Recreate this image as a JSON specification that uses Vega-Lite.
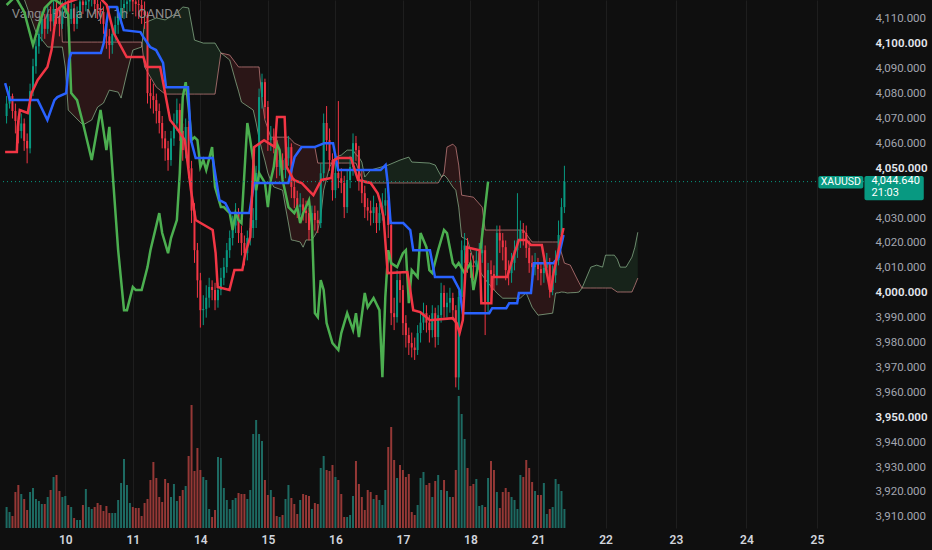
{
    "$schema": "https://vega.github.io/schema/vega-lite/v6.json",
    "width": 868,
    "height": 528,
    "autosize": {"type": "none"},
    "padding": {"left": 0, "top": 0, "right": 64, "bottom": 22},
    "background": "#0f0f0f",
    "config": {
        "view": {"stroke": null},
        "font": "Roboto",
        "axis": {"domain": false, "ticks": false, "gridColor": "#1e1e1e", "gridWidth": 1, "labelOverlap": false, "labelFlush": false, "labelFont": "Roboto"}
    },
    "datasets": {
        "bars": [
            {"i":3,"o":4071,"h":4079,"l":4068,"c":4076,"v":21},
            {"i":4,"o":4076,"h":4083,"l":4074,"c":4079,"v":16},
            {"i":5,"o":4079,"h":4080,"l":4070,"c":4073,"v":12},
            {"i":6,"o":4073,"h":4076,"l":4064,"c":4069,"v":36},
            {"i":7,"o":4069,"h":4071,"l":4060,"c":4065,"v":43},
            {"i":8,"o":4065,"h":4072,"l":4062,"c":4068,"v":34},
            {"i":9,"o":4068,"h":4070,"l":4057,"c":4061,"v":29},
            {"i":10,"o":4061,"h":4064,"l":4052,"c":4058,"v":18},
            {"i":11,"o":4058,"h":4084,"l":4056,"c":4081,"v":36},
            {"i":12,"o":4081,"h":4094,"l":4079,"c":4091,"v":40},
            {"i":13,"o":4091,"h":4102,"l":4088,"c":4099,"v":29},
            {"i":14,"o":4099,"h":4107,"l":4096,"c":4104,"v":27},
            {"i":15,"o":4104,"h":4113,"l":4101,"c":4110,"v":24},
            {"i":16,"o":4110,"h":4112,"l":4102,"c":4106,"v":24},
            {"i":17,"o":4106,"h":4116,"l":4104,"c":4112,"v":31},
            {"i":18,"o":4112,"h":4115,"l":4105,"c":4109,"v":38},
            {"i":19,"o":4109,"h":4119,"l":4107,"c":4114,"v":51},
            {"i":20,"o":4114,"h":4118,"l":4108,"c":4111,"v":53},
            {"i":21,"o":4111,"h":4114,"l":4103,"c":4108,"v":37},
            {"i":22,"o":4108,"h":4117,"l":4106,"c":4113,"v":31},
            {"i":23,"o":4113,"h":4121,"l":4111,"c":4116,"v":32},
            {"i":24,"o":4116,"h":4118,"l":4107,"c":4110,"v":23},
            {"i":25,"o":4110,"h":4117,"l":4108,"c":4114,"v":21},
            {"i":26,"o":4114,"h":4116,"l":4105,"c":4108,"v":10},
            {"i":27,"o":4108,"h":4115,"l":4106,"c":4112,"v":8},
            {"i":28,"o":4112,"h":4121,"l":4110,"c":4117,"v":8},
            {"i":29,"o":4117,"h":4120,"l":4112,"c":4115.6,"v":23},
            {"i":30,"o":4115.6,"h":4122,"l":4113,"c":4117,"v":39},
            {"i":31,"o":4117,"h":4123,"l":4114,"c":4118,"v":21},
            {"i":32,"o":4118,"h":4124,"l":4115,"c":4119,"v":19},
            {"i":33,"o":4119,"h":4121,"l":4112,"c":4116,"v":21},
            {"i":34,"o":4116,"h":4119,"l":4110,"c":4114,"v":25},
            {"i":35,"o":4114,"h":4117,"l":4108,"c":4112.8,"v":23},
            {"i":36,"o":4112.8,"h":4115,"l":4104,"c":4108,"v":17},
            {"i":37,"o":4108,"h":4110,"l":4098,"c":4103,"v":22},
            {"i":38,"o":4103,"h":4106,"l":4094,"c":4099.5,"v":15},
            {"i":39,"o":4099.5,"h":4107,"l":4096,"c":4104,"v":15},
            {"i":40,"o":4104,"h":4111,"l":4101,"c":4107.6,"v":15},
            {"i":41,"o":4107.6,"h":4115,"l":4104,"c":4111,"v":28},
            {"i":42,"o":4111,"h":4119,"l":4108,"c":4114.4,"v":45},
            {"i":43,"o":4114.4,"h":4122,"l":4110,"c":4116,"v":69},
            {"i":44,"o":4116,"h":4123,"l":4112,"c":4117,"v":43},
            {"i":45,"o":4117,"h":4124,"l":4113,"c":4118,"v":25},
            {"i":46,"o":4118,"h":4122,"l":4113,"c":4117,"v":21},
            {"i":47,"o":4117,"h":4121,"l":4111,"c":4116,"v":20},
            {"i":48,"o":4116,"h":4120,"l":4110,"c":4115.6,"v":20},
            {"i":49,"o":4115.6,"h":4118,"l":4108,"c":4113,"v":12},
            {"i":50,"o":4113,"h":4117,"l":4106,"c":4111.6,"v":25},
            {"i":51,"o":4111.6,"h":4113,"l":4076,"c":4080.2,"v":29},
            {"i":52,"o":4080.2,"h":4086,"l":4074,"c":4079,"v":48},
            {"i":53,"o":4079,"h":4084,"l":4072,"c":4077.4,"v":66},
            {"i":54,"o":4077.4,"h":4080,"l":4068,"c":4073,"v":50},
            {"i":55,"o":4073,"h":4076,"l":4064,"c":4068.2,"v":31},
            {"i":56,"o":4068.2,"h":4071,"l":4058,"c":4062,"v":26},
            {"i":57,"o":4062,"h":4065,"l":4053,"c":4058,"v":49},
            {"i":58,"o":4058,"h":4061,"l":4049,"c":4053.3,"v":45},
            {"i":59,"o":4053.3,"h":4065,"l":4051,"c":4062,"v":31},
            {"i":60,"o":4062,"h":4072,"l":4059,"c":4068,"v":44},
            {"i":61,"o":4068,"h":4078,"l":4065,"c":4073.4,"v":27},
            {"i":62,"o":4073.4,"h":4076,"l":4061,"c":4065,"v":32},
            {"i":63,"o":4065,"h":4068,"l":4053,"c":4057.3,"v":38},
            {"i":64,"o":4057.3,"h":4070,"l":4054,"c":4066.6,"v":42},
            {"i":65,"o":4066.6,"h":4069,"l":4046,"c":4050,"v":72},
            {"i":66,"o":4050,"h":4053,"l":4028,"c":4033,"v":123},
            {"i":67,"o":4033,"h":4036,"l":4012,"c":4017.1,"v":57},
            {"i":68,"o":4017.1,"h":4020,"l":3998,"c":4005,"v":80},
            {"i":69,"o":4005,"h":4008,"l":3986,"c":3993,"v":58},
            {"i":70,"o":3993,"h":3999,"l":3987,"c":3993.5,"v":51},
            {"i":71,"o":3993.5,"h":4003,"l":3990,"c":3998,"v":48},
            {"i":72,"o":3998,"h":4006,"l":3994,"c":4002.3,"v":19},
            {"i":73,"o":4002.3,"h":4005,"l":3997,"c":4001.1,"v":11},
            {"i":74,"o":4001.1,"h":4004,"l":3993,"c":3997,"v":18},
            {"i":75,"o":3997,"h":4004,"l":3994,"c":4001.1,"v":71},
            {"i":76,"o":4001.1,"h":4010,"l":3999,"c":4006,"v":70},
            {"i":77,"o":4006,"h":4014,"l":4003,"c":4010.3,"v":40},
            {"i":78,"o":4010.3,"h":4020,"l":4008,"c":4017.1,"v":28},
            {"i":79,"o":4017.1,"h":4025,"l":4014,"c":4022,"v":19},
            {"i":80,"o":4022,"h":4031,"l":4019,"c":4027,"v":28},
            {"i":81,"o":4027,"h":4036,"l":4024,"c":4032,"v":30},
            {"i":82,"o":4032,"h":4034,"l":4020,"c":4024,"v":35},
            {"i":83,"o":4024,"h":4027,"l":4015,"c":4020,"v":34},
            {"i":84,"o":4020,"h":4023,"l":4011,"c":4015.9,"v":34},
            {"i":85,"o":4015.9,"h":4025,"l":4013,"c":4022,"v":29},
            {"i":86,"o":4022,"h":4030,"l":4019,"c":4026,"v":38},
            {"i":87,"o":4026,"h":4034,"l":4022,"c":4029.2,"v":94},
            {"i":88,"o":4029.2,"h":4051,"l":4026,"c":4048.1,"v":108},
            {"i":89,"o":4048.1,"h":4082,"l":4045,"c":4078.6,"v":94},
            {"i":90,"o":4078.6,"h":4088,"l":4074,"c":4084.6,"v":87},
            {"i":91,"o":4084.6,"h":4086,"l":4070,"c":4074.6,"v":48},
            {"i":92,"o":4074.6,"h":4077,"l":4057,"c":4061.3,"v":33},
            {"i":93,"o":4061.3,"h":4067,"l":4057,"c":4062.5,"v":38},
            {"i":94,"o":4062.5,"h":4066,"l":4056,"c":4061.3,"v":31},
            {"i":95,"o":4061.3,"h":4063,"l":4046,"c":4050.5,"v":12},
            {"i":96,"o":4050.5,"h":4057,"l":4047,"c":4053.3,"v":11},
            {"i":97,"o":4053.3,"h":4056,"l":4045,"c":4049.3,"v":13},
            {"i":98,"o":4049.3,"h":4058,"l":4046,"c":4054,"v":29},
            {"i":99,"o":4054,"h":4063,"l":4051,"c":4058.5,"v":43},
            {"i":100,"o":4058.5,"h":4060,"l":4038,"c":4042.5,"v":30},
            {"i":101,"o":4042.5,"h":4046,"l":4034,"c":4038,"v":24},
            {"i":102,"o":4038,"h":4041,"l":4030,"c":4034.4,"v":14},
            {"i":103,"o":4034.4,"h":4040,"l":4031,"c":4035.5,"v":28},
            {"i":104,"o":4035.5,"h":4038,"l":4029,"c":4033,"v":34},
            {"i":105,"o":4033,"h":4037,"l":4028,"c":4032,"v":33},
            {"i":106,"o":4032,"h":4034,"l":4021,"c":4025.2,"v":32},
            {"i":107,"o":4025.2,"h":4035,"l":4022,"c":4032,"v":19},
            {"i":108,"o":4032,"h":4035,"l":4025,"c":4029.2,"v":25},
            {"i":109,"o":4029.2,"h":4033,"l":4024,"c":4028,"v":24},
            {"i":110,"o":4028,"h":4052,"l":4026,"c":4048,"v":60},
            {"i":111,"o":4048,"h":4072,"l":4045,"c":4068.2,"v":72},
            {"i":112,"o":4068.2,"h":4075,"l":4057,"c":4061.3,"v":58},
            {"i":113,"o":4061.3,"h":4066,"l":4049,"c":4053.3,"v":57},
            {"i":114,"o":4053.3,"h":4056,"l":4037,"c":4041.2,"v":63},
            {"i":115,"o":4041.2,"h":4052,"l":4038,"c":4048.1,"v":51},
            {"i":116,"o":4048.1,"h":4077,"l":4042,"c":4046,"v":48},
            {"i":117,"o":4046,"h":4050,"l":4040,"c":4044.1,"v":34},
            {"i":118,"o":4044.1,"h":4047,"l":4030,"c":4034.4,"v":11},
            {"i":119,"o":4034.4,"h":4049,"l":4032,"c":4045.3,"v":11},
            {"i":120,"o":4045.3,"h":4055,"l":4042,"c":4050.5,"v":13},
            {"i":121,"o":4050.5,"h":4064,"l":4047,"c":4060.1,"v":32},
            {"i":122,"o":4060.1,"h":4063,"l":4053,"c":4057.3,"v":67},
            {"i":123,"o":4057.3,"h":4059,"l":4041,"c":4045.3,"v":44},
            {"i":124,"o":4045.3,"h":4049,"l":4036,"c":4040,"v":31},
            {"i":125,"o":4040,"h":4043,"l":4030,"c":4034.4,"v":18},
            {"i":126,"o":4034.4,"h":4038,"l":4029,"c":4033,"v":38},
            {"i":127,"o":4033,"h":4037,"l":4027,"c":4032,"v":36},
            {"i":128,"o":4032,"h":4039,"l":4028,"c":4034.4,"v":29},
            {"i":129,"o":4034.4,"h":4036,"l":4024,"c":4028,"v":33},
            {"i":130,"o":4028,"h":4036,"l":4025,"c":4032,"v":28},
            {"i":131,"o":4032,"h":4040,"l":4029,"c":4035,"v":23},
            {"i":132,"o":4035,"h":4042,"l":4031,"c":4037.2,"v":38},
            {"i":133,"o":4037.2,"h":4039,"l":4022,"c":4027.2,"v":81},
            {"i":134,"o":4027.2,"h":4029,"l":3987,"c":3991.8,"v":101},
            {"i":135,"o":3991.8,"h":3998,"l":3985,"c":3990.2,"v":68},
            {"i":136,"o":3990.2,"h":4009,"l":3988,"c":4005.1,"v":50},
            {"i":137,"o":4005.1,"h":4008,"l":3996,"c":4001.1,"v":63},
            {"i":138,"o":4001.1,"h":4003,"l":3983,"c":3987.8,"v":58},
            {"i":139,"o":3987.8,"h":3991,"l":3978,"c":3983,"v":51},
            {"i":140,"o":3983,"h":3986,"l":3975,"c":3979.8,"v":54},
            {"i":141,"o":3979.8,"h":3984,"l":3974,"c":3978,"v":16},
            {"i":142,"o":3978,"h":3982,"l":3973,"c":3977,"v":13},
            {"i":143,"o":3977,"h":3987,"l":3975,"c":3983.8,"v":23},
            {"i":144,"o":3983.8,"h":3992,"l":3980,"c":3988,"v":50},
            {"i":145,"o":3988,"h":3996,"l":3985,"c":3991.8,"v":56},
            {"i":146,"o":3991.8,"h":3995,"l":3984,"c":3988,"v":43},
            {"i":147,"o":3988,"h":3991,"l":3980,"c":3985,"v":45},
            {"i":148,"o":3985,"h":3995,"l":3982,"c":3991.8,"v":31},
            {"i":149,"o":3991.8,"h":3994,"l":3978,"c":3982.2,"v":47},
            {"i":150,"o":3982.2,"h":3995,"l":3979,"c":3991,"v":53},
            {"i":151,"o":3991,"h":4004,"l":3988,"c":3999.9,"v":38},
            {"i":152,"o":3999.9,"h":4003,"l":3990,"c":3994.2,"v":48},
            {"i":153,"o":3994.2,"h":4000,"l":3990,"c":3996,"v":37},
            {"i":154,"o":3996,"h":4002,"l":3992,"c":3997.9,"v":31},
            {"i":155,"o":3997.9,"h":4000,"l":3989,"c":3993,"v":31},
            {"i":156,"o":3993,"h":3995,"l":3962,"c":3966,"v":58},
            {"i":157,"o":3966,"h":4001,"l":3961,"c":3998.3,"v":132},
            {"i":158,"o":3998.3,"h":4021,"l":3995,"c":4017.1,"v":114},
            {"i":159,"o":4017.1,"h":4024,"l":4012,"c":4019,"v":89},
            {"i":160,"o":4019,"h":4022,"l":4008,"c":4011.9,"v":60},
            {"i":161,"o":4011.9,"h":4016,"l":4006,"c":4011,"v":42},
            {"i":162,"o":4011,"h":4015,"l":4005,"c":4010.3,"v":44},
            {"i":163,"o":4010.3,"h":4017,"l":4007,"c":4013,"v":49},
            {"i":164,"o":4013,"h":4020,"l":4010,"c":4015.9,"v":22},
            {"i":165,"o":4015.9,"h":4026,"l":4012,"c":4017.1,"v":23},
            {"i":166,"o":4017.1,"h":4019,"l":3983,"c":3995.8,"v":21},
            {"i":167,"o":3995.8,"h":4012,"l":3992,"c":4009.1,"v":50},
            {"i":168,"o":4009.1,"h":4013,"l":4002,"c":4007.5,"v":67},
            {"i":169,"o":4007.5,"h":4011,"l":4001,"c":4006.3,"v":58},
            {"i":170,"o":4006.3,"h":4027,"l":4003,"c":4024,"v":36},
            {"i":171,"o":4024,"h":4027,"l":4016,"c":4021,"v":20},
            {"i":172,"o":4021,"h":4024,"l":4013,"c":4018.3,"v":36},
            {"i":173,"o":4018.3,"h":4021,"l":4005,"c":4009.1,"v":40},
            {"i":174,"o":4009.1,"h":4013,"l":4003,"c":4007.9,"v":36},
            {"i":175,"o":4007.9,"h":4016,"l":4004,"c":4012,"v":31},
            {"i":176,"o":4012,"h":4021,"l":4009,"c":4017.1,"v":28},
            {"i":177,"o":4017.1,"h":4040,"l":4014,"c":4021,"v":19},
            {"i":178,"o":4021,"h":4029,"l":4018,"c":4025.2,"v":53},
            {"i":179,"o":4025.2,"h":4028,"l":4019,"c":4024,"v":51},
            {"i":180,"o":4024,"h":4027,"l":4014,"c":4018,"v":68},
            {"i":181,"o":4018,"h":4021,"l":4008,"c":4011.9,"v":60},
            {"i":182,"o":4011.9,"h":4015,"l":4006,"c":4010.3,"v":46},
            {"i":183,"o":4010.3,"h":4016,"l":4007,"c":4011.9,"v":37},
            {"i":184,"o":4011.9,"h":4014,"l":4005,"c":4009.5,"v":33},
            {"i":185,"o":4009.5,"h":4012,"l":4003,"c":4007.9,"v":33},
            {"i":186,"o":4007.9,"h":4014,"l":4004,"c":4010,"v":45},
            {"i":187,"o":4010,"h":4016,"l":4007,"c":4011.9,"v":14},
            {"i":188,"o":4011.9,"h":4014,"l":3998,"c":4001.1,"v":19},
            {"i":189,"o":4001.1,"h":4011,"l":3999,"c":4007,"v":21},
            {"i":190,"o":4007,"h":4017,"l":4004,"c":4013.1,"v":49},
            {"i":191,"o":4013.1,"h":4029,"l":4011,"c":4023.2,"v":44},
            {"i":192,"o":4023.2,"h":4038,"l":4021,"c":4034.4,"v":37},
            {"i":193,"o":4034.4,"h":4051,"l":4032,"c":4044.6,"v":19}
        ],
        "cloud": [
            {"i":3,"a":4121,"b":4126,"s":1,"t":"dn"},
            {"i":9,"a":4118,"b":4126,"s":1,"t":"dn"},
            {"i":13,"a":4104.7,"b":4126,"s":1,"t":"dn"},
            {"i":17,"a":4098.7,"b":4126,"s":1,"t":"dn"},
            {"i":21,"a":4098.7,"b":4126,"s":1,"t":"dn"},
            {"i":22,"a":4098.7,"b":4100.7,"s":1,"t":"dn"},
            {"i":23,"a":4090.7,"b":4100.7,"s":1,"t":"dn"},
            {"i":24,"a":4073.4,"b":4100.7,"s":1,"t":"dn"},
            {"i":29,"a":4067.4,"b":4100.7,"s":1,"t":"dn"},
            {"i":32,"a":4069.4,"b":4100.7,"s":1,"t":"dn"},
            {"i":34,"a":4074.6,"b":4100.7,"s":1,"t":"dn"},
            {"i":36,"a":4076.2,"b":4100.7,"s":1,"t":"dn"},
            {"i":38,"a":4081.4,"b":4100.7,"s":1,"t":"dn"},
            {"i":41,"a":4080.6,"b":4100.7,"s":1,"t":"dn"},
            {"i":42,"a":4078.2,"b":4100.7,"s":1,"t":"dn"},
            {"i":44,"a":4088.3,"b":4100.7,"s":1,"t":"dn"},
            {"i":46,"a":4097.5,"b":4100.7,"s":1,"t":"dn"},
            {"i":49,"a":4098.7,"b":4100.7,"s":1,"t":"dn"},
            {"i":49.1,"a":4099.7,"b":4099.7,"s":1,"t":"dn"},
            {"i":49.1,"a":4099.7,"b":4099.7,"s":2,"t":"up"},
            {"i":50,"a":4108.4,"b":4090.7,"s":2,"t":"up"},
            {"i":54,"a":4110.4,"b":4082.6,"s":2,"t":"up"},
            {"i":57,"a":4109.6,"b":4079.8,"s":2,"t":"up"},
            {"i":61,"a":4112.4,"b":4079.8,"s":2,"t":"up"},
            {"i":63,"a":4114.8,"b":4079.8,"s":2,"t":"up"},
            {"i":65,"a":4114.4,"b":4079.8,"s":2,"t":"up"},
            {"i":67,"a":4101.5,"b":4079.8,"s":2,"t":"up"},
            {"i":70,"a":4100.3,"b":4079.8,"s":2,"t":"up"},
            {"i":74,"a":4100.3,"b":4079.8,"s":2,"t":"up"},
            {"i":76,"a":4096.3,"b":4096.3,"s":2,"t":"up"},
            {"i":76,"a":4096.3,"b":4096.3,"s":3,"t":"dn"},
            {"i":79,"a":4093.5,"b":4095.5,"s":3,"t":"dn"},
            {"i":81,"a":4085,"b":4092.3,"s":3,"t":"dn"},
            {"i":82,"a":4081,"b":4090.7,"s":3,"t":"dn"},
            {"i":83,"a":4076.6,"b":4090.7,"s":3,"t":"dn"},
            {"i":87,"a":4073.4,"b":4090.7,"s":3,"t":"dn"},
            {"i":88,"a":4068.2,"b":4090.7,"s":3,"t":"dn"},
            {"i":89,"a":4062,"b":4090.7,"s":3,"t":"dn"},
            {"i":90,"a":4057.3,"b":4077.4,"s":3,"t":"dn"},
            {"i":91,"a":4053,"b":4069.4,"s":3,"t":"dn"},
            {"i":92,"a":4048.1,"b":4066,"s":3,"t":"dn"},
            {"i":93,"a":4045,"b":4062.5,"s":3,"t":"dn"},
            {"i":94,"a":4042.5,"b":4062.5,"s":3,"t":"dn"},
            {"i":97,"a":4041.2,"b":4062.5,"s":3,"t":"dn"},
            {"i":98,"a":4034.4,"b":4062.5,"s":3,"t":"dn"},
            {"i":99,"a":4028,"b":4062.5,"s":3,"t":"dn"},
            {"i":100,"a":4021.2,"b":4061.5,"s":3,"t":"dn"},
            {"i":101,"a":4021,"b":4060.1,"s":3,"t":"dn"},
            {"i":103,"a":4020.4,"b":4059,"s":3,"t":"dn"},
            {"i":104,"a":4018.3,"b":4058.5,"s":3,"t":"dn"},
            {"i":105,"a":4021.2,"b":4058.5,"s":3,"t":"dn"},
            {"i":107,"a":4021.2,"b":4058.5,"s":3,"t":"dn"},
            {"i":108,"a":4023,"b":4058.5,"s":3,"t":"dn"},
            {"i":109,"a":4025.2,"b":4052.1,"s":3,"t":"dn"},
            {"i":110,"a":4030.4,"b":4052.1,"s":3,"t":"dn"},
            {"i":111,"a":4041.2,"b":4052.1,"s":3,"t":"dn"},
            {"i":113,"a":4050.5,"b":4052.1,"s":3,"t":"dn"},
            {"i":113.8,"a":4052.1,"b":4052.1,"s":3,"t":"dn"},
            {"i":113.8,"a":4052.1,"b":4052.1,"s":4,"t":"up"},
            {"i":115,"a":4054.5,"b":4052.1,"s":4,"t":"up"},
            {"i":117,"a":4055.3,"b":4052.1,"s":4,"t":"up"},
            {"i":119,"a":4057.3,"b":4052.1,"s":4,"t":"up"},
            {"i":121,"a":4057.3,"b":4052.1,"s":4,"t":"up"},
            {"i":122,"a":4055.5,"b":4052.1,"s":4,"t":"up"},
            {"i":123,"a":4054.5,"b":4049,"s":4,"t":"up"},
            {"i":124,"a":4052.5,"b":4046,"s":4,"t":"up"},
            {"i":125,"a":4046.5,"b":4044.1,"s":4,"t":"up"},
            {"i":127,"a":4049.3,"b":4044.1,"s":4,"t":"up"},
            {"i":133,"a":4051.3,"b":4044.1,"s":4,"t":"up"},
            {"i":137,"a":4053.3,"b":4044.1,"s":4,"t":"up"},
            {"i":140,"a":4054.5,"b":4044.1,"s":4,"t":"up"},
            {"i":141,"a":4052.5,"b":4044.1,"s":4,"t":"up"},
            {"i":147,"a":4052.1,"b":4044.1,"s":4,"t":"up"},
            {"i":149,"a":4051.3,"b":4044.1,"s":4,"t":"up"},
            {"i":150,"a":4049,"b":4044.1,"s":4,"t":"up"},
            {"i":151.2,"a":4046.5,"b":4046.5,"s":4,"t":"up"},
            {"i":151.2,"a":4046.5,"b":4046.5,"s":5,"t":"dn"},
            {"i":152,"a":4047.3,"b":4048.1,"s":5,"t":"dn"},
            {"i":153,"a":4046.1,"b":4058.5,"s":5,"t":"dn"},
            {"i":155,"a":4042.5,"b":4059.7,"s":5,"t":"dn"},
            {"i":156,"a":4041.2,"b":4058.5,"s":5,"t":"dn"},
            {"i":157,"a":4034.4,"b":4051.3,"s":5,"t":"dn"},
            {"i":158,"a":4022.4,"b":4039.2,"s":5,"t":"dn"},
            {"i":160,"a":4021.2,"b":4038.8,"s":5,"t":"dn"},
            {"i":162,"a":4013.1,"b":4038.4,"s":5,"t":"dn"},
            {"i":165,"a":4007.1,"b":4034.4,"s":5,"t":"dn"},
            {"i":166,"a":4005.5,"b":4025.2,"s":5,"t":"dn"},
            {"i":167,"a":4003.9,"b":4025.2,"s":5,"t":"dn"},
            {"i":170,"a":3999.9,"b":4025.2,"s":5,"t":"dn"},
            {"i":172,"a":3997.8,"b":4025.2,"s":5,"t":"dn"},
            {"i":178,"a":3997.8,"b":4025.2,"s":5,"t":"dn"},
            {"i":179,"a":3999,"b":4025.2,"s":5,"t":"dn"},
            {"i":180,"a":3999.9,"b":4023.6,"s":5,"t":"dn"},
            {"i":182,"a":3994.2,"b":4020.4,"s":5,"t":"dn"},
            {"i":184,"a":3991,"b":4020.4,"s":5,"t":"dn"},
            {"i":189,"a":3991.8,"b":4020.4,"s":5,"t":"dn"},
            {"i":190,"a":3999.9,"b":4020.4,"s":5,"t":"dn"},
            {"i":191,"a":4000,"b":4020.4,"s":5,"t":"dn"},
            {"i":192,"a":4000.3,"b":4016,"s":5,"t":"dn"},
            {"i":193,"a":4000.2,"b":4011.9,"s":5,"t":"dn"},
            {"i":194,"a":3999.9,"b":4011.5,"s":5,"t":"dn"},
            {"i":195,"a":4000,"b":4011.1,"s":5,"t":"dn"},
            {"i":197,"a":4000.1,"b":4006.3,"s":5,"t":"dn"},
            {"i":198,"a":4000.3,"b":4004,"s":5,"t":"dn"},
            {"i":199,"a":4001.9,"b":4001.9,"s":5,"t":"dn"},
            {"i":199,"a":4001.9,"b":4001.9,"s":6,"t":"up"},
            {"i":202,"a":4010.3,"b":4001.9,"s":6,"t":"up"},
            {"i":204,"a":4011.1,"b":4001.9,"s":6,"t":"up"},
            {"i":206,"a":4010.3,"b":4001.9,"s":6,"t":"up"},
            {"i":207,"a":4015.1,"b":4001.9,"s":6,"t":"up"},
            {"i":209,"a":4015.1,"b":4001.9,"s":6,"t":"up"},
            {"i":210,"a":4015.1,"b":4001.1,"s":6,"t":"up"},
            {"i":211,"a":4013.5,"b":4000.3,"s":6,"t":"up"},
            {"i":212,"a":4010.3,"b":4000.3,"s":6,"t":"up"},
            {"i":214,"a":4010.3,"b":4000.3,"s":6,"t":"up"},
            {"i":216,"a":4014.3,"b":4000.3,"s":6,"t":"up"},
            {"i":217,"a":4018.3,"b":4003,"s":6,"t":"up"},
            {"i":218,"a":4024.3,"b":4005.9,"s":6,"t":"up"}
        ],
        "chikou": [
            {"i":3,"p":4115.6},{"i":6,"p":4119},{"i":9,"p":4112.8},{"i":12,"p":4099.5},{"i":14,"p":4107.6},
            {"i":16,"p":4114.4},{"i":19,"p":4118},{"i":22,"p":4115.6},{"i":24,"p":4111.6},{"i":25,"p":4080.2},
            {"i":27,"p":4077.4},{"i":29,"p":4068.2},{"i":32,"p":4053.3},{"i":35,"p":4073.4},{"i":37,"p":4057.3},
            {"i":38,"p":4066.6},{"i":41,"p":4017.1},{"i":43,"p":3993},{"i":44,"p":3993},{"i":46,"p":4002.3},
            {"i":47,"p":4001.1},{"i":49,"p":4001.1},{"i":51,"p":4010.3},{"i":52,"p":4017.1},{"i":55,"p":4032},
            {"i":56,"p":4024},{"i":58,"p":4015.9},{"i":59,"p":4022},{"i":61,"p":4029.2},{"i":62,"p":4048.1},
            {"i":63,"p":4078.6},{"i":64,"p":4084.6},{"i":65,"p":4074.6},{"i":66,"p":4061.3},{"i":67,"p":4062.5},
            {"i":68,"p":4061.3},{"i":69,"p":4050.5},{"i":70,"p":4053.3},{"i":71,"p":4049.3},{"i":73,"p":4058.5},
            {"i":74,"p":4042.5},{"i":76,"p":4034.4},{"i":77,"p":4034.4},{"i":79,"p":4032},{"i":80,"p":4025.2},
            {"i":81,"p":4032},{"i":82,"p":4029.2},{"i":83,"p":4028},{"i":85,"p":4068.2},{"i":86,"p":4061.3},
            {"i":87,"p":4053.3},{"i":88,"p":4041.2},{"i":89,"p":4048.1},{"i":91,"p":4044.1},{"i":92,"p":4034.4},
            {"i":93,"p":4045.3},{"i":94,"p":4050.5},{"i":95,"p":4060.1},{"i":96,"p":4057.3},{"i":97,"p":4045.3},
            {"i":98,"p":4040},{"i":99,"p":4034.4},{"i":101,"p":4032},{"i":102,"p":4034.4},{"i":103,"p":4028},
            {"i":104,"p":4032},{"i":106,"p":4037.2},{"i":107,"p":4027.2},{"i":108,"p":3991.8},{"i":109,"p":3990.2},
            {"i":110,"p":4005.1},{"i":111,"p":4001.1},{"i":112,"p":3987.8},{"i":114,"p":3979.8},{"i":116,"p":3977},
            {"i":117,"p":3983.8},{"i":119,"p":3991.8},{"i":121,"p":3985},{"i":122,"p":3991.8},{"i":123,"p":3982.2},
            {"i":125,"p":3999.9},{"i":126,"p":3994.2},{"i":128,"p":3997.9},{"i":130,"p":3993},{"i":131,"p":3966.1},
            {"i":132,"p":3998.3},{"i":133,"p":4017.1},{"i":134,"p":4011.9},{"i":136,"p":4010.3},{"i":138,"p":4015.9},
            {"i":139,"p":4017.1},{"i":140,"p":3995.8},{"i":141,"p":4009.1},{"i":143,"p":4006.3},{"i":144,"p":4024},
            {"i":146,"p":4018.3},{"i":147,"p":4009.1},{"i":148,"p":4007.9},{"i":150,"p":4017.1},{"i":152,"p":4025.2},
            {"i":153,"p":4024},{"i":155,"p":4011.9},{"i":156,"p":4010.3},{"i":157,"p":4011.9},{"i":159,"p":4007.9},
            {"i":161,"p":4011.9},{"i":162,"p":4001.1},{"i":164,"p":4013.1},{"i":165,"p":4023.2},{"i":166,"p":4034.4},
            {"i":167,"p":4044.6}
        ],
        "kijun": [
            {"i":2.5,"p":4084.2},{"i":3.5,"p":4080.2},{"i":4.1,"p":4077.4},{"i":13.6,"p":4077.4},{"i":16.9,"p":4069.4},
            {"i":19.3,"p":4077.4},{"i":20.3,"p":4078.6},{"i":23.3,"p":4080.2},{"i":24.3,"p":4093.5},{"i":25,"p":4096.3},
            {"i":35.1,"p":4096.3},{"i":36.1,"p":4100.3},{"i":37.8,"p":4114.8},{"i":40.5,"p":4114.8},{"i":42.9,"p":4105.5},
            {"i":48.6,"p":4104.7},{"i":49.6,"p":4102.7},{"i":51.9,"p":4098.7},{"i":53.9,"p":4097.5},{"i":56.3,"p":4092.3},
            {"i":57.3,"p":4082.6},{"i":64.8,"p":4082.6},{"i":65.8,"p":4061.3},{"i":67.4,"p":4054.1},{"i":73.2,"p":4054.1},
            {"i":75.5,"p":4037.2},{"i":77.5,"p":4036},{"i":79.2,"p":4032},{"i":85.7,"p":4032},{"i":87.3,"p":4044.1},
            {"i":99,"p":4044.1},{"i":101.1,"p":4054.5},{"i":103.5,"p":4058.5},{"i":107.9,"p":4058.5},{"i":111.2,"p":4060.1},
            {"i":114.2,"p":4060.1},{"i":115.9,"p":4049.3},{"i":130.4,"p":4049.3},{"i":132.1,"p":4051.3},{"i":132.8,"p":4044.1},
            {"i":133.8,"p":4028},{"i":138.1,"p":4028},{"i":140.5,"p":4025.2},{"i":141.5,"p":4017.1},{"i":147.2,"p":4017.1},
            {"i":148.9,"p":4006.3},{"i":155,"p":4006.3},{"i":157.3,"p":4001.1},{"i":158.4,"p":3991.8},{"i":167.4,"p":3991.8},
            {"i":168.4,"p":3993.8},{"i":173.2,"p":3993.8},{"i":174.2,"p":3995.8},{"i":176.9,"p":3995.8},{"i":177.5,"p":3999.9},
            {"i":181.6,"p":3999.9},{"i":182.6,"p":4011.9},{"i":189.3,"p":4011.9},{"i":191,"p":4014.3},{"i":192.7,"p":4023.2}
        ],
        "tenkan": [
            {"i":2.5,"p":4056.5},{"i":6.5,"p":4056.5},{"i":6.8,"p":4066.6},{"i":7.5,"p":4073.4},{"i":10.2,"p":4072.2},
            {"i":11.5,"p":4080.2},{"i":13.6,"p":4085.5},{"i":16.9,"p":4090.7},{"i":18.3,"p":4097.5},{"i":19.3,"p":4106.7},
            {"i":20.3,"p":4113.6},{"i":22,"p":4115.6},{"i":23.3,"p":4116.4},{"i":29.4,"p":4119},{"i":34.4,"p":4119},
            {"i":37.1,"p":4115.6},{"i":39.5,"p":4104.3},{"i":43.9,"p":4094.7},{"i":49.6,"p":4094.7},{"i":50.6,"p":4090.7},
            {"i":55.3,"p":4090.7},{"i":57,"p":4080.2},{"i":58.7,"p":4069.4},{"i":61.4,"p":4065.4},{"i":63.7,"p":4061.3},
            {"i":65.8,"p":4041.2},{"i":67.4,"p":4029.2},{"i":69.1,"p":4028},{"i":73.2,"p":4025.2},{"i":74.2,"p":4015.9},
            {"i":74.9,"p":4002.3},{"i":78.9,"p":4001.1},{"i":80.6,"p":4009.1},{"i":83.3,"p":4009.1},{"i":84.3,"p":4015.9},
            {"i":86,"p":4022.4},{"i":87.3,"p":4058.5},{"i":90.7,"p":4061.3},{"i":94.4,"p":4058.5},{"i":95.1,"p":4070.6},
            {"i":97.7,"p":4070.6},{"i":98.4,"p":4050.5},{"i":100.8,"p":4045.3},{"i":103.5,"p":4044.1},{"i":105.8,"p":4041.2},
            {"i":107.5,"p":4039.2},{"i":110.2,"p":4045.3},{"i":113.6,"p":4046.1},{"i":114.6,"p":4053.3},{"i":115.9,"p":4054.1},
            {"i":120.3,"p":4054.1},{"i":121.3,"p":4050.5},{"i":122.7,"p":4045.3},{"i":127,"p":4044.1},{"i":129.4,"p":4040},
            {"i":130.4,"p":4036},{"i":131.4,"p":4030.4},{"i":132.8,"p":4007.9},{"i":139.5,"p":4008.3},{"i":140.5,"p":4001.1},
            {"i":141.5,"p":3993},{"i":143.9,"p":3992.2},{"i":147.2,"p":3989},{"i":155,"p":3989.8},{"i":156.3,"p":3987.8},
            {"i":157.3,"p":3983.8},{"i":158.4,"p":3989},{"i":159.7,"p":4018.3},{"i":164.1,"p":4017.1},{"i":164.7,"p":3995.8},
            {"i":168.1,"p":3995.8},{"i":168.4,"p":4006.3},{"i":173.5,"p":4006.3},{"i":175.2,"p":4013.1},{"i":177.5,"p":4021.2},
            {"i":179.9,"p":4021.2},{"i":181.6,"p":4019.2},{"i":185.3,"p":4019.2},{"i":187,"p":4007.9},{"i":188.3,"p":4000.3},
            {"i":189.3,"p":4007.9},{"i":191,"p":4017.1},{"i":192.7,"p":4026}
        ]
    },
    "layer": [
        {
            "data": {"name": "bars"},
            "mark": {"type": "bar", "size": 2},
            "encoding": {
                "x": {
                    "field": "i", "type": "quantitative", "title": null,
                    "scale": {"domain": [2.46, 294.7], "nice": false, "zero": false},
                    "axis": {
                        "values": [23, 46, 69, 92, 115, 138, 161, 184, 207, 231, 255, 279],
                        "tickCount": 40,
                        "labelExpr": "['10','11','14','15','16','17','18','21','22','23','24','25'][indexof([23,46,69,92,115,138,161,184,207,231,255,279], datum.value)]",
                        "labelFontSize": 12, "labelFontWeight": 600, "labelColor": "#d1d4dc", "labelPadding": 6,
                        "labelOverlap": false, "labelFlush": false
                    }
                },
                "y": {"field": "v", "type": "quantitative", "title": null, "scale": {"domain": [0, 528]}, "axis": null},
                "color": {"condition": {"test": "datum.c >= datum.o", "value": "#1d6a62"}, "value": "#953836"}
            }
        },
        {
            "layer": [
                {
                    "data": {"name": "cloud"},
                    "mark": {"type": "area"},
                    "encoding": {
                        "x": {"field": "i", "type": "quantitative", "title": null, "scale": {"domain": [2.46, 294.7], "nice": false, "zero": false}},
                        "y": {
                            "field": "a", "type": "quantitative", "title": null,
                            "scale": {"domain": [3905.5, 4117.6], "nice": false, "zero": false},
                            "axis": {
                                "orient": "right",
                                "values": [3910, 3920, 3930, 3940, 3950, 3960, 3970, 3980, 3990, 4000, 4010, 4020, 4030, 4040, 4050, 4060, 4070, 4080, 4090, 4100, 4110],
                                "tickCount": 40,
                                "labelExpr": "datum.value == 4040 ? '' : format(datum.value, ',.3f')",
                                "labelFontSize": 11.5,
                                "labelPadding": 7,
                                "labelOverlap": false,
                                "labelFlush": false,
                                "labelBound": false,
                                "labelColor": {"condition": {"test": "datum.value % 50 == 0", "value": "#e6e8ee"}, "value": "#a3a6af"},
                                "labelFontWeight": {"condition": {"test": "datum.value % 50 == 0", "value": 600}, "value": 400}
                            }
                        },
                        "y2": {"field": "b"},
                        "color": {"field": "t", "type": "nominal", "scale": {"domain": ["up", "dn"], "range": ["#17231a", "#2b1617"]}, "legend": null},
                        "detail": {"field": "s", "type": "nominal"}
                    }
                },
                {
                    "data": {"name": "cloud"},
                    "mark": {"type": "line", "color": "#a5d6a7", "strokeWidth": 1, "opacity": 0.6},
                    "encoding": {
                        "x": {"field": "i", "type": "quantitative", "title": null, "scale": {"domain": [2.46, 294.7], "nice": false, "zero": false}},
                        "y": {"field": "a", "type": "quantitative", "title": null, "scale": {"domain": [3905.5, 4117.6], "nice": false, "zero": false}}
                    }
                },
                {
                    "data": {"name": "cloud"},
                    "mark": {"type": "line", "color": "#ef9a9a", "strokeWidth": 1, "opacity": 0.6},
                    "encoding": {
                        "x": {"field": "i", "type": "quantitative", "title": null, "scale": {"domain": [2.46, 294.7], "nice": false, "zero": false}},
                        "y": {"field": "b", "type": "quantitative", "title": null, "scale": {"domain": [3905.5, 4117.6], "nice": false, "zero": false}}
                    }
                },
                {
                    "data": {"name": "bars"},
                    "mark": {"type": "rule", "strokeWidth": 1},
                    "encoding": {
                        "x": {"field": "i", "type": "quantitative", "title": null, "scale": {"domain": [2.46, 294.7], "nice": false, "zero": false}},
                        "y": {"field": "l", "type": "quantitative", "title": null, "scale": {"domain": [3905.5, 4117.6], "nice": false, "zero": false}},
                        "y2": {"field": "h"},
                        "color": {"condition": {"test": "datum.c >= datum.o", "value": "#089981"}, "value": "#f23645"}
                    }
                },
                {
                    "data": {"name": "bars"},
                    "mark": {"type": "bar", "size": 2},
                    "encoding": {
                        "x": {"field": "i", "type": "quantitative", "title": null, "scale": {"domain": [2.46, 294.7], "nice": false, "zero": false}},
                        "y": {"field": "o", "type": "quantitative", "title": null, "scale": {"domain": [3905.5, 4117.6], "nice": false, "zero": false}},
                        "y2": {"field": "c"},
                        "color": {"condition": {"test": "datum.c >= datum.o", "value": "#089981"}, "value": "#f23645"}
                    }
                },
                {
                    "data": {"values": [{}]},
                    "mark": {"type": "text", "align": "left", "baseline": "middle", "fontSize": 13, "color": "#8b8b8b"},
                    "encoding": {
                        "x": {"datum": 4.8, "type": "quantitative", "scale": {"domain": [2.46, 294.7], "nice": false, "zero": false}},
                        "y": {"datum": 4112, "type": "quantitative", "scale": {"domain": [3905.5, 4117.6], "nice": false, "zero": false}},
                        "text": {"value": "Vàng / Đô la Mỹ · 1h · OANDA"}
                    }
                },
                {
                    "data": {"name": "chikou"},
                    "mark": {"type": "line", "color": "#4caf50", "strokeWidth": 2.5},
                    "encoding": {
                        "x": {"field": "i", "type": "quantitative", "title": null, "scale": {"domain": [2.46, 294.7], "nice": false, "zero": false}},
                        "y": {"field": "p", "type": "quantitative", "title": null, "scale": {"domain": [3905.5, 4117.6], "nice": false, "zero": false}}
                    }
                },
                {
                    "data": {"name": "kijun"},
                    "mark": {"type": "line", "color": "#2962ff", "strokeWidth": 2.5},
                    "encoding": {
                        "x": {"field": "i", "type": "quantitative", "title": null, "scale": {"domain": [2.46, 294.7], "nice": false, "zero": false}},
                        "y": {"field": "p", "type": "quantitative", "title": null, "scale": {"domain": [3905.5, 4117.6], "nice": false, "zero": false}}
                    }
                },
                {
                    "data": {"name": "tenkan"},
                    "mark": {"type": "line", "color": "#f23645", "strokeWidth": 2.5},
                    "encoding": {
                        "x": {"field": "i", "type": "quantitative", "title": null, "scale": {"domain": [2.46, 294.7], "nice": false, "zero": false}},
                        "y": {"field": "p", "type": "quantitative", "title": null, "scale": {"domain": [3905.5, 4117.6], "nice": false, "zero": false}}
                    }
                },
                {
                    "data": {"values": [{}]},
                    "mark": {"type": "rule", "color": "#089981", "strokeWidth": 1, "strokeDash": [1, 3]},
                    "encoding": {
                        "y": {"datum": 4044.64, "type": "quantitative", "scale": {"domain": [3905.5, 4117.6], "nice": false, "zero": false}}
                    }
                },
                {
                    "data": {"values": [{}]},
                    "mark": {"type": "rect", "color": "#089981", "cornerRadius": 2},
                    "encoding": {
                        "x": {"datum": 279.5, "type": "quantitative", "scale": {"domain": [2.46, 294.7], "nice": false, "zero": false}},
                        "x2": {"datum": 294.8},
                        "y": {"datum": 4041.9, "type": "quantitative", "scale": {"domain": [3905.5, 4117.6], "nice": false, "zero": false}},
                        "y2": {"datum": 4046.9}
                    }
                },
                {
                    "data": {"values": [{}]},
                    "mark": {"type": "rect", "color": "#089981", "cornerRadius": 2},
                    "encoding": {
                        "x": {"datum": 295.2, "type": "quantitative", "scale": {"domain": [2.46, 294.7], "nice": false, "zero": false}},
                        "x2": {"datum": 315.4},
                        "y": {"datum": 4037.2, "type": "quantitative", "scale": {"domain": [3905.5, 4117.6], "nice": false, "zero": false}},
                        "y2": {"datum": 4046.9}
                    }
                },
                {
                    "data": {"values": [{}]},
                    "mark": {"type": "text", "align": "center", "baseline": "middle", "fontSize": 10.5, "color": "#ffffff"},
                    "encoding": {
                        "x": {"datum": 287.15, "type": "quantitative", "scale": {"domain": [2.46, 294.7], "nice": false, "zero": false}},
                        "y": {"datum": 4044.4, "type": "quantitative", "scale": {"domain": [3905.5, 4117.6], "nice": false, "zero": false}},
                        "text": {"value": "XAUUSD"}
                    }
                },
                {
                    "data": {"values": [{}]},
                    "mark": {"type": "text", "align": "left", "baseline": "middle", "fontSize": 11, "color": "#ffffff"},
                    "encoding": {
                        "x": {"datum": 297.6, "type": "quantitative", "scale": {"domain": [2.46, 294.7], "nice": false, "zero": false}},
                        "y": {"datum": 4044.7, "type": "quantitative", "scale": {"domain": [3905.5, 4117.6], "nice": false, "zero": false}},
                        "text": {"value": "4,044.640"}
                    }
                },
                {
                    "data": {"values": [{}]},
                    "mark": {"type": "text", "align": "left", "baseline": "middle", "fontSize": 11, "color": "#ffffff"},
                    "encoding": {
                        "x": {"datum": 297.6, "type": "quantitative", "scale": {"domain": [2.46, 294.7], "nice": false, "zero": false}},
                        "y": {"datum": 4040.0, "type": "quantitative", "scale": {"domain": [3905.5, 4117.6], "nice": false, "zero": false}},
                        "text": {"value": "21:03"}
                    }
                }
            ]
        }
    ],
    "resolve": {"scale": {"y": "independent"}}
}
